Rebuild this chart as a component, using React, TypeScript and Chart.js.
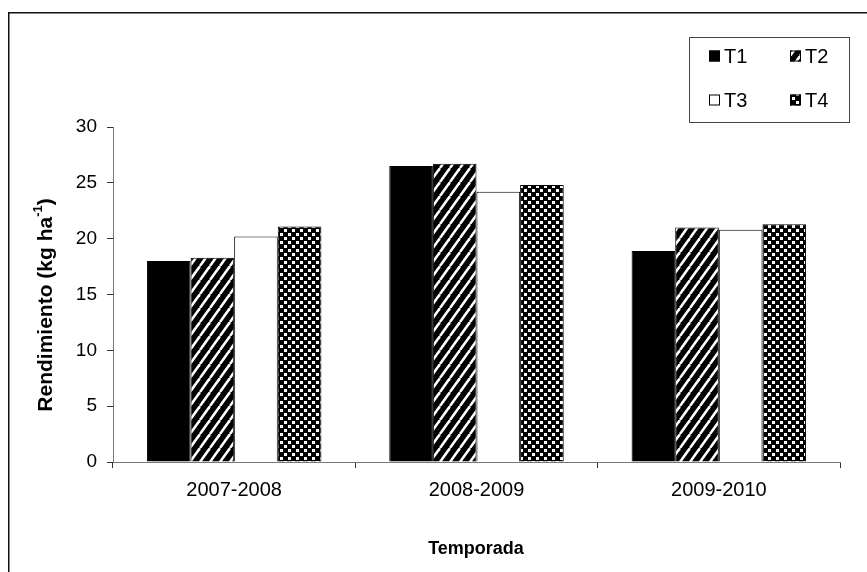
import React, { useEffect, useRef } from "react";
import { Chart, registerables } from "chart.js";

Chart.register(...registerables);

const categories = ["2007-2008", "2008-2009", "2009-2010"];
const seriesNames = ["T1", "T2", "T3", "T4"];
const t1Values = [18.0, 26.5, 18.9];
const t2Values = [18.3, 26.7, 21.0];
const t3Values = [20.2, 24.2, 20.8];
const t4Values = [21.1, 24.8, 21.3];
const yMin = 0;
const yMax = 30;
const yStep = 5;
const xTitle = "Temporada";
const yTitleMain = "Rendimiento (kg ha";
const yTitleSup = "-1";
const yTitleEnd = ")";

const FONT = '"Liberation Sans", Arial, sans-serif';

function stripePattern(ctx: CanvasRenderingContext2D): CanvasPattern {
  const W = 10;
  const H = 14;
  const c = document.createElement("canvas");
  c.width = W;
  c.height = H;
  const g = c.getContext("2d")!;
  g.fillStyle = "#000";
  g.fillRect(0, 0, W, H);
  g.strokeStyle = "#fff";
  g.lineWidth = 2.5;
  for (const dx of [-W, 0, W]) {
    g.beginPath();
    g.moveTo(dx, H);
    g.lineTo(dx + W, 0);
    g.stroke();
  }
  return ctx.createPattern(c, "repeat")!;
}

function dotPattern(ctx: CanvasRenderingContext2D): CanvasPattern {
  const c = document.createElement("canvas");
  c.width = 8;
  c.height = 8;
  const g = c.getContext("2d")!;
  g.fillStyle = "#000";
  g.fillRect(0, 0, 8, 8);
  g.fillStyle = "#fff";
  g.fillRect(0, 1, 3, 3);
  g.fillRect(4, 5, 3, 3);
  return ctx.createPattern(c, "repeat")!;
}

export default function App() {
  const ref = useRef<HTMLCanvasElement>(null);

  useEffect(() => {
    const canvas = ref.current!;
    const ctx = canvas.getContext("2d")!;
    const stripes = stripePattern(ctx);
    const dots = dotPattern(ctx);
    const fills: (string | CanvasPattern)[] = ["#000", stripes, "#fff", dots];
    const values = [t1Values, t2Values, t3Values, t4Values];

    const decor = {
      id: "decor",
      beforeDraw(chart: any) {
        const c = chart.ctx as CanvasRenderingContext2D;
        c.save();
        c.fillStyle = "#fff";
        c.fillRect(0, 0, chart.width, chart.height);
        c.strokeStyle = "#111";
        c.lineWidth = 1.5;
        c.strokeRect(8.75, 12.75, 1000, 1000);
        c.restore();
      },
      afterDraw(chart: any) {
        const c = chart.ctx as CanvasRenderingContext2D;
        c.save();
        // legend box
        c.strokeStyle = "#444";
        c.lineWidth = 1;
        c.strokeRect(689.5, 37.5, 160, 85);
        const items = [
          { x: 709, y: 56 },
          { x: 790, y: 56 },
          { x: 709, y: 100 },
          { x: 790, y: 100 },
        ];
        c.font = `20px ${FONT}`;
        c.textBaseline = "middle";
        c.textAlign = "left";
        items.forEach((it, i) => {
          const s = 11;
          c.fillStyle = fills[i] as any;
          c.fillRect(it.x, it.y - s / 2, s, s);
          c.strokeStyle = "#000";
          c.lineWidth = 1;
          c.strokeRect(it.x + 0.5, it.y - s / 2 + 0.5, s - 1, s - 1);
          c.fillStyle = "#000";
          c.fillText(seriesNames[i], it.x + 15, it.y + 1);
        });
        // x title
        c.font = `bold 18px ${FONT}`;
        c.textAlign = "center";
        c.textBaseline = "alphabetic";
        c.fillText(xTitle, 476, 554);
        // y title with superscript
        const fs = 21;
        const ss = 13;
        c.translate(45, 305);
        c.rotate(-Math.PI / 2);
        c.font = `bold ${fs}px ${FONT}`;
        const w1 = c.measureText(yTitleMain).width;
        c.font = `bold ${ss}px ${FONT}`;
        const w2 = c.measureText(yTitleSup).width;
        c.font = `bold ${fs}px ${FONT}`;
        const w3 = c.measureText(yTitleEnd).width;
        let x = -(w1 + w2 + w3) / 2;
        c.textAlign = "left";
        c.fillText(yTitleMain, x, 7);
        x += w1;
        c.font = `bold ${ss}px ${FONT}`;
        c.fillText(yTitleSup, x, -3);
        x += w2;
        c.font = `bold ${fs}px ${FONT}`;
        c.fillText(yTitleEnd, x, 7);
        c.restore();
      },
    };

    const chart = new Chart(canvas, {
      type: "bar",
      data: {
        labels: categories,
        datasets: seriesNames.map((name, i) => ({
          label: name,
          data: values[i],
          backgroundColor: fills[i] as any,
          borderColor: "#000",
          borderWidth: 1,
          categoryPercentage: 0.72,
          barPercentage: 1.0,
        })),
      },
      options: {
        responsive: false,
        animation: false,
        layout: { padding: { left: 0, top: 127, right: 27, bottom: 0 } },
        plugins: {
          legend: { display: false },
          tooltip: { enabled: false },
          title: { display: false },
        },
        scales: {
          x: {
            afterFit: (s: any) => {
              s.height = 110;
            },
            grid: {
              display: true,
              offset: true,
              drawOnChartArea: false,
              drawTicks: true,
              tickLength: 6,
              color: "#333",
            },
            border: { display: true, color: "#777", width: 1 },
            ticks: {
              color: "#000",
              font: { family: FONT, size: 20 },
              padding: 10,
              maxRotation: 0,
            },
          },
          y: {
            min: yMin,
            max: yMax,
            afterFit: (s: any) => {
              s.width = 113;
            },
            grid: {
              display: true,
              drawOnChartArea: false,
              drawTicks: true,
              tickLength: 6,
              color: "#333",
            },
            border: { display: true, color: "#777", width: 1 },
            ticks: {
              stepSize: yStep,
              color: "#000",
              font: { family: FONT, size: 19 },
              padding: 10,
            },
          },
        },
      },
      plugins: [decor],
    });
    return () => chart.destroy();
  }, []);

  return (
    <div style={{ position: "fixed", left: 0, top: 0, width: 867, height: 572, background: "#fff" }}>
      <canvas ref={ref} width={867} height={572} style={{ display: "block" }} />
    </div>
  );
}
